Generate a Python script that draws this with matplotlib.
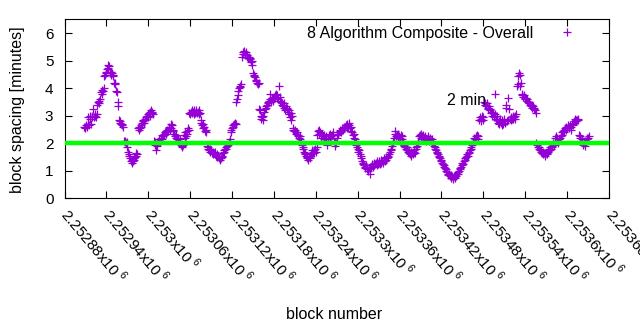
import matplotlib
matplotlib.use("Agg")
import matplotlib.pyplot as plt
import numpy as np

plt.rcParams["font.family"] = ["Liberation Sans", "DejaVu Sans"]
plt.rcParams["mathtext.fontset"] = "custom"
plt.rcParams["mathtext.rm"] = "Liberation Sans"

# one value per block, starting at this height
FIRST_BLOCK = 2252908
spacing_min = [
    2.6, 2.55, 2.6, 2.65, 2.6, 2.7, 2.95, 2.65, 2.9, 3.0, 2.7, 2.95, 3.0, 3.25, 2.95, 3.0, 3.05, 2.95, 3.05, 3.4, 3.5,
    3.45, 3.55, 3.6, 3.85, 3.8, 3.95, 3.9, 4.0,
    4.45, 4.5, 4.55, 4.6, 4.7, 4.85, 4.75, 4.8, 4.55, 4.6, 4.5, 4.55, 4.45, 4.5, 4.2, 4.15, 4.2,
    3.9, 3.85, 3.5, 3.35, 2.85, 2.75, 2.8, 2.7, 2.65, 2.7, 2.6, 2.1, 2.05, 2.1, 2.0, 2.05,
    1.85, 1.7, 1.55, 1.6, 1.45, 1.35, 1.4, 1.3, 1.35, 1.45, 1.4, 1.5, 1.55, 1.65, 1.6,
    2.55, 2.5, 2.6, 2.55, 2.65, 2.6, 2.75, 2.8, 2.85, 2.75, 2.9, 2.85, 2.95,
    3.0, 2.95, 3.05, 3.1, 3.0, 3.15, 3.2, 3.1, 3.15, 3.05,
    2.1, 2.05, 1.95, 1.75, 2.0, 1.9, 2.05, 2.1,
    2.15, 2.05, 2.2, 2.3, 2.15, 2.25, 2.35, 2.3, 2.4, 2.35, 2.45, 2.5,
    2.45, 2.55, 2.6, 2.5, 2.7, 2.55, 2.65, 2.45, 2.5,
    2.35, 2.25, 2.2, 2.3, 2.15, 2.1, 2.2, 2.05, 2.0, 2.15,
    1.95, 1.9, 1.85, 1.95,
    2.3, 2.2, 2.4, 2.25, 2.45, 2.35, 2.55, 2.5,
    3.1, 3.05, 3.15, 3.2, 3.1, 3.15, 3.05, 3.2, 3.1, 3.15, 3.2, 3.1, 3.15, 3.05, 3.2, 3.1,
    2.85, 2.75, 2.65, 2.7, 2.55, 2.6, 2.45, 2.5, 2.4,
    1.9, 1.85, 1.8, 1.75, 1.8, 1.7, 1.75, 1.65, 1.7, 1.6, 1.65, 1.7, 1.6, 1.55, 1.6, 1.5, 1.55, 1.5, 1.45,
    1.4, 1.45, 1.5, 1.55,
    1.65, 1.7, 1.75, 1.8, 1.85, 1.8, 1.9, 1.95, 2.0, 2.05, 2.15,
    2.4, 2.5, 2.55, 2.6, 2.65, 2.7, 2.75, 2.7,
    3.5, 3.6, 3.75, 3.9, 4.0, 4.05, 4.1, 4.15,
    5.15, 5.25, 5.3, 5.35, 5.25, 5.2, 5.3, 5.15, 5.2, 5.1, 5.15, 5.05, 5.1, 4.95, 5.0, 4.85,
    4.55, 4.5, 4.45, 4.4, 4.3, 4.25, 4.2, 4.15, 4.2,
    3.25, 3.2, 3.0, 2.9, 2.95, 2.85, 3.0,
    3.15, 3.25, 3.35, 3.3, 3.4, 3.5, 3.45, 3.55, 3.8, 3.6, 3.5, 3.65, 3.55,
    3.6, 3.7, 3.75, 3.7, 3.8, 3.65, 3.75, 3.6, 4.1, 3.7,
    3.55, 3.5, 3.45, 3.4, 3.35, 3.45, 3.3, 3.2, 3.35, 3.25, 3.3, 3.15, 3.2, 3.05, 2.95, 3.1, 2.85, 3.0,
    2.55, 2.5, 2.45, 2.5, 2.4, 2.35, 2.4, 2.3, 2.25, 2.2, 2.25, 2.15, 2.1,
    1.95, 1.85, 1.8, 1.7, 1.65, 1.6, 1.55, 1.5, 1.45, 1.4, 1.5, 1.45, 1.55, 1.6, 1.65, 1.75, 1.7, 1.65, 1.75, 1.8, 1.7, 1.85,
    2.3, 2.45, 2.5, 2.35, 2.4, 2.3, 2.2, 2.35, 2.25, 2.15, 2.3, 2.2, 2.1, 2.25, 1.95,
    2.15, 2.2, 2.3, 2.2, 2.35, 2.25, 2.3, 2.4, 2.3, 2.1, 1.9, 2.05, 2.0, 2.2, 2.3,
    2.35, 2.4, 2.45, 2.5, 2.4, 2.5, 2.55, 2.5, 2.6, 2.55, 2.6, 2.65, 2.55, 2.7, 2.6, 2.75, 2.65, 2.55, 2.6,
    2.45, 2.4, 2.3, 2.35, 2.2, 2.15, 2.05,
    1.95, 1.85, 1.8, 1.7, 1.75, 1.6, 1.55, 1.45,
    1.35, 1.3, 1.25, 1.2, 1.15, 1.1, 1.2, 1.05, 1.1, 1.0, 1.1, 0.9, 1.05, 1.15,
    1.2, 1.25, 1.15, 1.3, 1.2, 1.25, 1.3, 1.2, 1.35, 1.25, 1.3, 1.35, 1.25, 1.3, 1.4,
    1.35, 1.3, 1.4, 1.45, 1.35, 1.4, 1.5, 1.45, 1.55, 1.5, 1.6, 1.7, 1.75, 1.8,
    1.9, 2.0, 2.1, 2.2, 2.35, 2.45, 2.25, 2.3, 2.2, 2.35, 2.25, 2.1, 2.2, 2.3, 2.15, 2.25,
    2.0, 1.95, 1.9, 1.85, 1.8, 1.85, 1.75, 1.7, 1.75, 1.65, 1.6, 1.7, 1.55, 1.65, 1.6, 1.7, 1.75, 1.65, 1.8, 1.85, 1.9,
    2.0, 2.1, 2.25, 2.3, 2.2, 2.35, 2.25, 2.2, 2.3, 2.15, 2.25, 2.2, 2.1, 2.15, 2.25, 2.2, 2.1, 2.15, 2.2, 2.1, 2.05, 2.15,
    2.0, 1.9, 1.85, 1.8, 1.75, 1.7, 1.65, 1.6, 1.55, 1.5, 1.45, 1.4, 1.35, 1.3, 1.25, 1.2, 1.15,
    1.1, 1.05, 1.0, 0.95, 0.9, 0.85, 0.9, 0.8, 0.85, 0.75, 0.8, 0.7, 0.75, 0.8, 0.75, 0.85, 0.8,
    0.9, 0.95, 0.9, 1.0, 1.05, 1.1, 1.15, 1.2, 1.3, 1.25, 1.35, 1.4, 1.45, 1.5, 1.55, 1.6, 1.55, 1.65, 1.7,
    1.75, 1.8, 1.85, 1.95,
    2.05, 2.1, 2.2, 2.15, 2.25, 2.2, 2.3, 2.15, 2.25,
    2.85, 2.95, 2.8, 2.9, 3.0, 2.85, 2.95,
    3.5, 3.45, 3.4, 3.35, 3.45, 3.3, 3.25, 3.35, 3.2, 3.25, 3.1,
    3.15, 3.0, 3.1, 2.95, 3.05, 3.8, 2.9, 3.0, 2.85,
    2.75, 2.8, 2.7, 2.9, 2.75, 2.65, 2.85, 2.7, 2.8, 2.9, 2.75, 3.3, 3.4, 2.8,
    3.65, 2.85, 3.25, 2.9, 2.85, 2.95, 2.9, 3.0, 2.9, 2.95, 3.0, 2.9, 3.05,
    4.1, 4.15, 4.45, 4.55, 4.5, 4.1, 4.2,
    3.8, 3.75, 3.7, 3.75, 3.65, 3.6, 3.65, 3.55, 3.6, 3.5, 3.45, 3.5, 3.4, 3.35, 3.4, 3.3, 3.35, 3.25, 3.3, 3.2, 3.1,
    2.0, 1.95, 1.85, 1.8, 1.85, 1.75, 1.7, 1.75, 1.65, 1.7, 1.6, 1.65, 1.55,
    1.6, 1.65, 1.6, 1.7, 1.75, 1.8, 1.75, 1.85, 1.8, 1.9, 1.85, 2.0, 1.95,
    2.2, 2.05, 2.25, 2.1, 2.2, 2.0, 2.15, 2.1, 2.2, 2.25,
    2.3, 2.4, 2.45, 2.5, 2.4, 2.55, 2.5, 2.6, 2.55, 2.65, 2.6, 2.55, 2.65,
    2.5, 2.6, 2.7, 2.65, 2.75, 2.8, 2.9, 2.85, 2.8, 2.85, 2.9, 2.85,
    2.3, 2.2, 2.25, 2.1, 2.15, 2.05, 1.95, 2.0, 1.9, 2.1, 2.05, 2.2, 2.15, 2.2, 2.25,
]

TARGET_MIN = 2
x_ticks = [2252880 + 60 * i for i in range(14)]
x_range = (2252880, 2253660)
y_range = (0, 6.5)

blocks = FIRST_BLOCK + np.arange(len(spacing_min))

FS = 11.5

fig = plt.figure(figsize=(6.4, 3.3), dpi=100)
ax = fig.add_axes([0.1008, 0.399, 0.8508, 0.542])

ax.plot(blocks, spacing_min, "+", color="#9400d3", ms=5.5, mew=0.9,
        label="8 Algorithm Composite - Overall")
ax.axhline(TARGET_MIN, color="#00ff00", lw=3.2, zorder=3)
ax.text(2253428, 3.54, "2 min", fontsize=FS, va="center", ha="left")

ax.set_xlim(x_range)
ax.set_ylim(y_range)
ax.set_yticks(range(7))
ax.set_xticks(x_ticks)
ax.set_xticklabels([f"{t / 1e6:g}x10$^{{\\ 6}}$" for t in x_ticks],
                   rotation=-50, rotation_mode="anchor", ha="left", va="center")
ax.tick_params(direction="in", top=True, right=True, length=5, width=0.8,
               labelsize=11)
ax.tick_params(axis="y", pad=8)
ax.tick_params(axis="x", pad=9)
for s in ax.spines.values():
    s.set_linewidth(0.8)

ax.set_xlabel("block number", fontsize=FS)
ax.set_ylabel("block spacing [minutes]", fontsize=FS)
ax.xaxis.set_label_coords(0.495, -0.61)
ax.yaxis.set_label_coords(-0.0725, 0.497)

ax.legend(loc="upper right", bbox_to_anchor=(0.945, 0.964), frameon=False,
          markerfirst=False, fontsize=FS, handlelength=1.5, borderpad=0,
          borderaxespad=0, handletextpad=1.38)

fig.savefig("out.png", dpi=100)
